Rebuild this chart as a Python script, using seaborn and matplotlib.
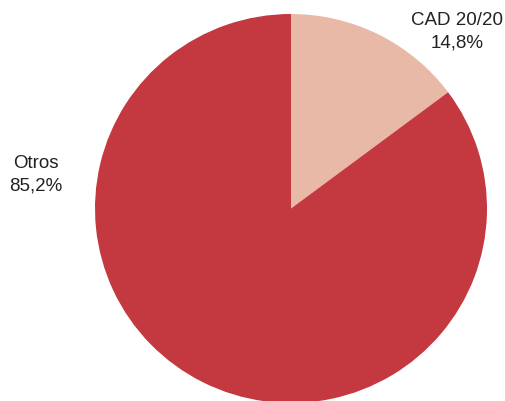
import matplotlib
matplotlib.use("Agg")
import matplotlib.pyplot as plt
import seaborn as sns

categories = ["CAD 20/20", "Otros"]
shares = [14.8, 85.2]
label_texts = ["CAD 20/20\n14,8%", "Otros\n85,2%"]
colors = ["#E9B9A8", "#C4383F"]

sns.set_theme(style="white")
plt.rcParams["font.family"] = ["Liberation Sans", "DejaVu Sans"]

fig = plt.figure(figsize=(5.06, 4.02), dpi=100)
ax = fig.add_axes([95 / 506, -2 / 402, 392 / 506, 389 / 402])

ax.pie(shares, colors=colors, startangle=90, counterclock=False,
       wedgeprops=dict(linewidth=0, antialiased=True))
ax.set_aspect("auto")
ax.set_xlim(-1, 1)
ax.set_ylim(-1, 1)
ax.axis("off")

# label centres in data units
label_pos = [(0.847, 0.915), (-1.30, 0.18)]
for txt, (x, y) in zip(label_texts, label_pos):
    ax.text(x, y, txt, ha="center", va="center", fontsize=13.5,
            color="#222222", linespacing=1.4, clip_on=False)

fig.savefig("out.png", dpi=100)
